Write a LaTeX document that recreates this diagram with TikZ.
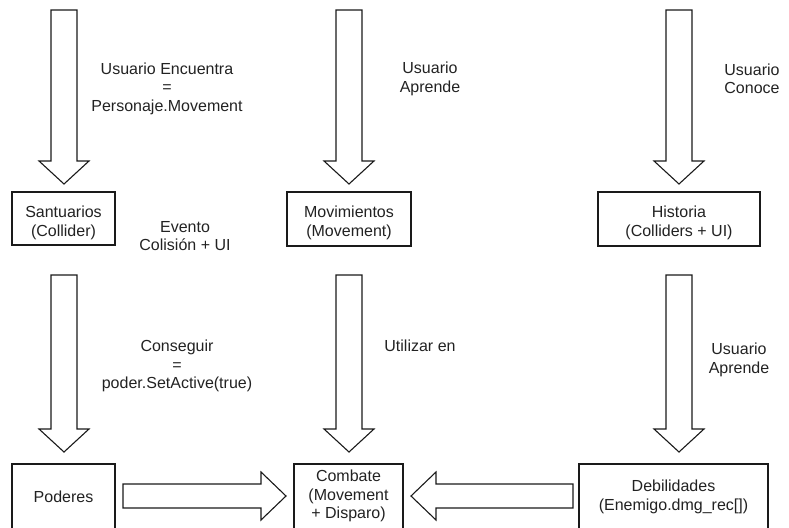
\documentclass[tikz,border=0pt]{standalone}
\usepackage{fontspec}
\setmainfont{Liberation Sans}
\definecolor{linec}{HTML}{1A1A1A}
\definecolor{txtc}{HTML}{222222}
\newcommand\vblk[3]{\draw[blk] (#1-13,#2) -- (#1+13,#2) -- (#1+13,#3-23) -- (#1+25,#3-23) -- (#1,#3) -- (#1-25,#3-23) -- (#1-13,#3-23) -- cycle;}
\newcommand\hblk[4]{\draw[blk] (#2,#1-12) -- (#2,#1+12) -- (#3-#4*25,#1+12) -- (#3-#4*25,#1+24) -- (#3,#1) -- (#3-#4*25,#1-24) -- (#3-#4*25,#1-12) -- cycle;}
\begin{document}
\begin{tikzpicture}[x=1pt,y=-1pt,
  boxst/.style={draw=linec, line width=1.1pt, inner sep=0pt, fill=white},
  lbl/.style={font=\fontsize{16}{18.5}\selectfont, text=txtc, align=center, inner sep=0pt},
  blk/.style={draw=linec, line width=1.1pt, fill=white, line join=miter}]
\useasboundingbox (0,0) rectangle (789,527);
\clip (0,0) rectangle (789,527);
% boxes, top row
\node[boxst, minimum width=103pt, minimum height=53pt] (sant) at (63.5,218.5) {};
\node[boxst, minimum width=124pt, minimum height=54pt] (movi) at (349,219) {};
\node[boxst, minimum width=162pt, minimum height=54pt] (hist) at (679,219) {};
% boxes, bottom row (run past the lower edge)
\node[boxst, minimum width=103pt, minimum height=96pt] (pode) at (63.5,512) {};
\node[boxst, minimum width=109pt, minimum height=96pt] (comb) at (348.5,512) {};
\node[boxst, minimum width=189pt, minimum height=96pt] (debi) at (673.5,512) {};
% box texts
\node[lbl] (tsant) at (63.5,223) {Santuarios\\(Collider)};
\node[lbl] (tmovi) at (349,223) {Movimientos\\(Movement)};
\node[lbl] (thist) at (679,223) {Historia\\(Colliders + UI)};
\node[lbl] (tpode) at (63.5,497) {Poderes};
\node[lbl] (tcomb) at (348.5,496) {Combate\\(Movement\\+ Disparo)};
\node[lbl] (tdebi) at (673.5,497) {Debilidades\\(Enemigo.dmg\_rec[])};
% block arrows
\vblk{64}{10}{184}
\vblk{349}{10}{184}
\vblk{679}{10}{184}
\vblk{64}{275}{452}
\vblk{349}{275}{452}
\vblk{679}{275}{452}
\hblk{496}{123}{286}{1}
\hblk{496}{573}{411}{-1}
% labels
\node[lbl] (l1) at (167,88.5) {Usuario Encuentra\\=\\Personaje.Movement};
\node[lbl] (l2) at (430,79) {Usuario\\Aprende};
\node[lbl] (l3) at (752,79) {Usuario\\Conoce};
\node[lbl] (l4) at (185,236) {Evento\\Colisión + UI};
\node[lbl] (l5) at (177,366) {Conseguir\\=\\poder.SetActive(true)};
\node[lbl] (l6) at (420,346) {Utilizar en};
\node[lbl] (l7) at (739,360) {Usuario\\Aprende};
\end{tikzpicture}
\end{document}
